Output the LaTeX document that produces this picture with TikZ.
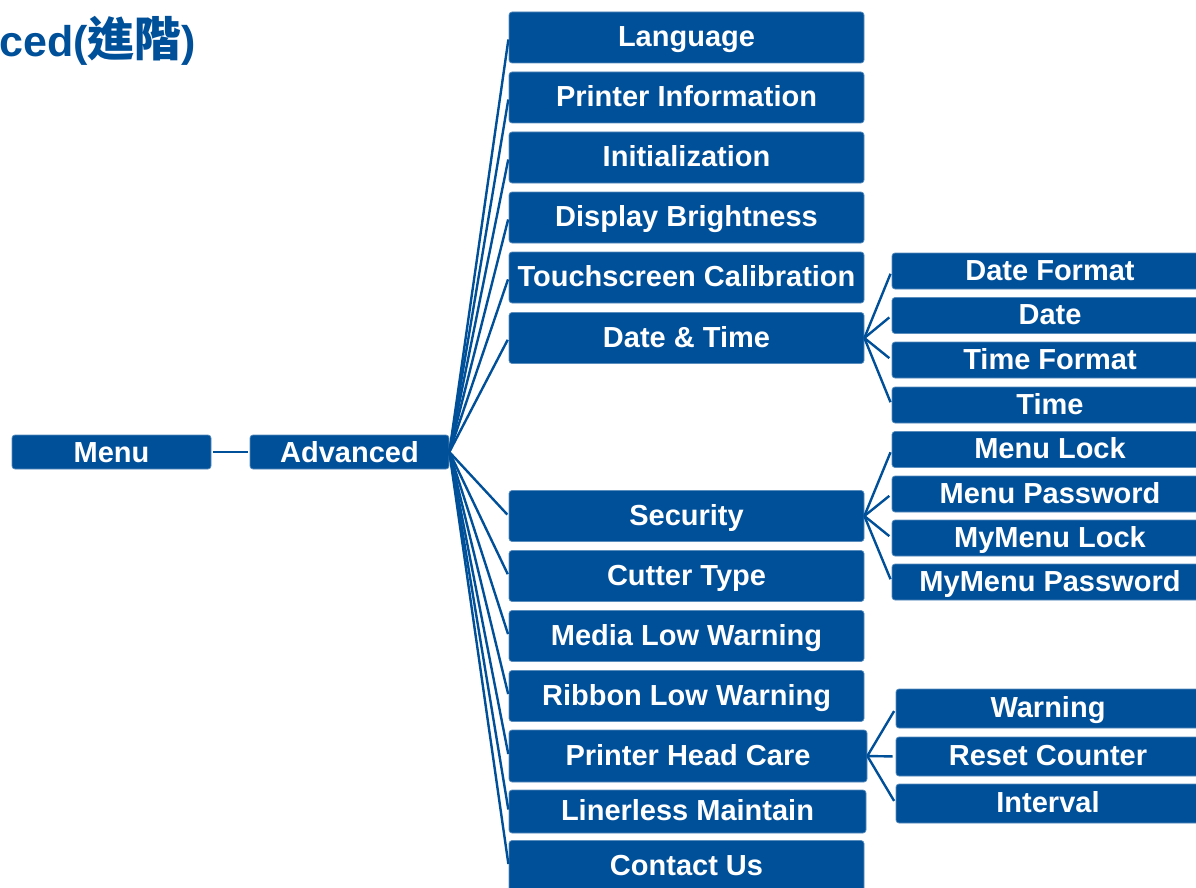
\documentclass[tikz,border=0pt]{standalone}
\usepackage{fontspec}
\setmainfont{Liberation Sans}
\newfontfamily\cjkfont{Noto Sans CJK TC Bold}
\definecolor{boxblue}{RGB}{0,79,153}
\tikzset{
  basebox/.style={rectangle, rounded corners=3pt, fill=boxblue, draw=boxblue!65!white,
    line width=0.7pt, text=white, inner sep=0pt,
    font=\bfseries\fontsize{29}{34}\selectfont, text height=21pt, text depth=3pt},
  lbox/.style={basebox, minimum width=355pt, minimum height=51pt},
  rbox/.style={basebox, minimum width=316pt, minimum height=36pt},
  wbox/.style={basebox, minimum width=304pt, minimum height=39pt},
  mbox/.style={basebox, minimum width=199pt, minimum height=34pt, text depth=1pt},
  link/.style={draw=boxblue, line width=2.4pt, shorten >=2pt},
  titlestyle/.style={anchor=base west, inner sep=0pt, text=boxblue,
    font=\bfseries\fontsize{43}{50}\selectfont}
}
\begin{document}
\begin{tikzpicture}[x=1pt,y=-1pt]
\useasboundingbox (0,0) rectangle (1196,888);
\clip (0,0) rectangle (1196,888);

\node[titlestyle] (title) at (-1,57) {ced({\cjkfont\fontsize{47}{50}\selectfont 進階})};

\node[mbox] (menu) at (111.5,452) {Menu};
\node[mbox] (adv) at (349.5,452) {Advanced};

\node[lbox] (lang)  at (686.5,37.5)  {Language};
\node[lbox] (pinfo) at (686.5,97.5)  {Printer Information};
\node[lbox] (init)  at (686.5,157.5) {Initialization};
\node[lbox] (disp)  at (686.5,217.5) {Display Brightness};
\node[lbox] (touch) at (686.5,277.5) {Touchscreen Calibration};
\node[lbox] (dt)    at (686.5,338)   {Date \& Time};
\node[lbox] (sec)   at (686.5,516)   {Security};
\node[lbox] (cut)   at (686.5,576)   {Cutter Type};
\node[lbox] (media) at (686.5,636)   {Media Low Warning};
\node[lbox] (ribb)  at (686.5,696)   {Ribbon Low Warning};
\node[lbox, minimum width=358pt, minimum height=52pt] (phc) at (688,756) {Printer Head Care};
\node[lbox, minimum width=357pt, minimum height=43pt] (liner) at (687.5,811.5) {Linerless Maintain};
\node[lbox] (cont)  at (686.5,866)   {Contact Us};

\node[rbox] (dfmt)  at (1050,271)   {Date Format};
\node[rbox] (date)  at (1050,315.5) {Date};
\node[rbox] (tfmt)  at (1050,360)   {Time Format};
\node[rbox] (time)  at (1050,405)   {Time};
\node[rbox] (mlock) at (1050,449.5) {Menu Lock};
\node[rbox] (mpass) at (1050,494)   {Menu Password};
\node[rbox] (mylock) at (1050,538)  {MyMenu Lock};
\node[rbox] (mypass) at (1050,582)  {MyMenu Password};

\node[wbox] (warn)  at (1048,708.5) {Warning};
\node[wbox] (reset) at (1048,756.5) {Reset Counter};
\node[wbox] (intv)  at (1048,803.5) {Interval};

\draw[link, shorten <=2pt] (menu.east) -- (adv.west);
\foreach \n in {lang,pinfo,init,disp,touch,dt,sec,cut,media,ribb,phc,liner,cont}
  \draw[link] (adv.east) -- (\n.west);
\foreach \n in {dfmt,date,tfmt,time}
  \draw[link, shorten >=3pt] (dt.east) -- (\n.west);
\foreach \n in {mlock,mpass,mylock,mypass}
  \draw[link, shorten >=3pt] (sec.east) -- (\n.west);
\foreach \n in {warn,reset,intv}
  \draw[link, shorten >=3pt] (phc.east) -- (\n.west);
\end{tikzpicture}
\end{document}
